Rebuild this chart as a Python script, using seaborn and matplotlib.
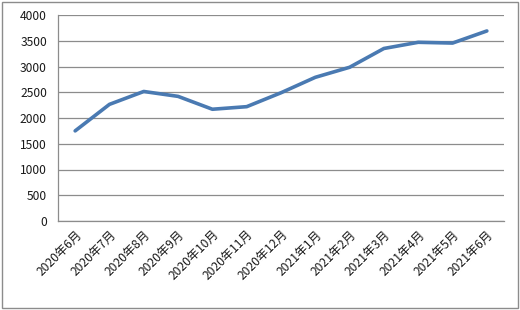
import matplotlib
matplotlib.use("Agg")
import matplotlib.pyplot as plt
import seaborn as sns
import pandas as pd
from matplotlib.patches import Rectangle

months = ["2020年6月", "2020年7月", "2020年8月", "2020年9月", "2020年10月", "2020年11月",
          "2020年12月", "2021年1月", "2021年2月", "2021年3月", "2021年4月", "2021年5月", "2021年6月"]
values = [1750, 2265, 2515, 2420, 2170, 2220, 2490, 2790, 2985, 3350, 3470, 3455, 3690]
yticks = [0, 500, 1000, 1500, 2000, 2500, 3000, 3500, 4000]

sns.set_theme(style="white")
plt.rcParams['font.family'] = ['Noto Sans CJK SC', 'DejaVu Sans']

df = pd.DataFrame({"month": months, "value": values})
df["idx"] = range(len(months))

fig = plt.figure(figsize=(5.2, 3.1), dpi=100)
ax = fig.add_axes([58/520, 1-221/310, (504-58)/520, (221-15)/310])

sns.lineplot(data=df, x="idx", y="value", ax=ax, color="#4A7AB2", linewidth=2.6)

ax.set_xlim(-0.5, len(months) - 0.5)
ax.set_ylim(0, 4000)
ax.set_yticks(yticks)
ax.set_yticklabels([str(v) for v in yticks], fontsize=8.7, color="#1a1a1a")
ax.set_xticks(range(len(months)))
ax.set_xticklabels(months, rotation=45, ha="right", rotation_mode="anchor", fontsize=8.7, color="#1a1a1a")
ax.tick_params(axis="y", length=0, pad=8)
ax.tick_params(axis="x", length=0, pad=5)
ax.set_xlabel("")
ax.set_ylabel("")
ax.yaxis.grid(True, color="#8c8c8c", linewidth=0.9)
ax.xaxis.grid(False)
for s in ["top", "right"]:
    ax.spines[s].set_visible(False)
for s in ["left", "bottom"]:
    ax.spines[s].set_color("#8c8c8c")
    ax.spines[s].set_linewidth(0.9)

fig.patches.append(Rectangle((0.004, 0.006), 0.992, 0.988, transform=fig.transFigure,
                             fill=False, edgecolor="#8c8c8c", linewidth=1.0))

fig.savefig("out.png", dpi=100)
